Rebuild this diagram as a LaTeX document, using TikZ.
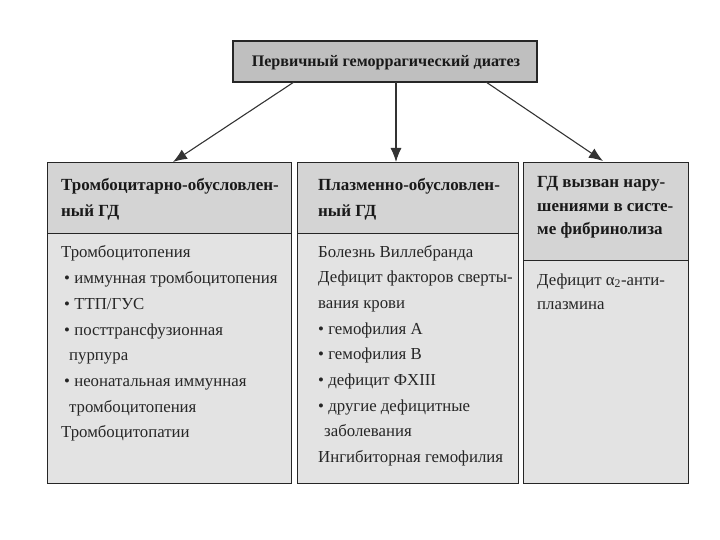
\documentclass[tikz,border=0pt]{standalone}
\usepackage{fontspec}
\setmainfont{Liberation Serif}
\usetikzlibrary{arrows.meta}
\begin{document}
\begin{tikzpicture}[x=1pt,y=-1pt,
  cell/.style={draw=black!85, line width=1.4pt, anchor=north west, inner sep=0pt},
  headcell/.style={cell, fill=black!17},
  bodycell/.style={cell, fill=black!11},
  topcell/.style={draw=black!85, line width=1.6pt, fill=black!25, inner sep=0pt},
  txt/.style={anchor=base west, inner sep=0pt, font=\fontsize{16.8}{20}\selectfont, text=black!85},
  htxt/.style={anchor=base west, inner sep=0pt, font=\fontsize{17}{20}\selectfont\bfseries, text=black!90},
  arr/.style={draw=black!80, line width=1.1pt, -{Latex[length=14pt,width=11pt]}}
]
\useasboundingbox (0,0) rectangle (720,540);
% top box
\node[topcell, minimum width=304pt, minimum height=41pt] (top) at (385,61.5) {};
\node[inner sep=0pt, anchor=base, font=\fontsize{16.1}{19}\selectfont\bfseries, text=black!90] (toptxt) at (386,67) {Первичный геморрагический диатез};
% column cells
\node[headcell, minimum width=244pt, minimum height=71pt] (h1) at (47,162) {};
\node[bodycell, minimum width=244pt, minimum height=250pt] (b1) at (47,233) {};
\node[headcell, minimum width=221pt, minimum height=71pt] (h2) at (297,162) {};
\node[bodycell, minimum width=221pt, minimum height=250pt] (b2) at (297,233) {};
\node[headcell, minimum width=165pt, minimum height=98pt] (h3) at (523,162) {};
\node[bodycell, minimum width=165pt, minimum height=223pt] (b3) at (523,260) {};
% arrows
\coordinate (a1s) at (294,82);
\coordinate (a2s) at (396,82);
\coordinate (a3s) at (486,82);
\draw[arr] (a1s) -- (173,162) coordinate (a1e);
\draw[arr] (a2s) -- (h2.north -| a2s);
\draw[arr] (a3s) -- (603,161) coordinate (a3e);
% column 1 text
\node[htxt] (h1t1) at (61,191) {Тромбоцитарно-обусловлен-};
\node[htxt] (h1t2) at (61,216) {ный ГД};
\node[txt] (c1t1) at (61,258) {Тромбоцитопения};
\node[txt] (c1t2) at (64,283.7) {\textbullet\ иммунная тромбоцитопения};
\node[txt] (c1t3) at (64,309.4) {\textbullet\ ТТП/ГУС};
\node[txt] (c1t4) at (64,335.1) {\textbullet\ посттрансфузионная};
\node[txt] (c1t5) at (69,360.8) {пурпура};
\node[txt] (c1t6) at (64,386.5) {\textbullet\ неонатальная иммунная};
\node[txt] (c1t7) at (69,412.2) {тромбоцитопения};
\node[txt] (c1t8) at (61,437.9) {Тромбоцитопатии};
% column 2 text
\node[htxt] (h2t1) at (318,191) {Плазменно-обусловлен-};
\node[htxt] (h2t2) at (318,216) {ный ГД};
\node[txt] (c2t1) at (318,257) {Болезнь Виллебранда};
\node[txt] (c2t2) at (318,282.7) {Дефицит факторов сверты-};
\node[txt] (c2t3) at (318,308.4) {вания крови};
\node[txt] (c2t4) at (318,334.1) {\textbullet\ гемофилия А};
\node[txt] (c2t5) at (318,359.8) {\textbullet\ гемофилия В};
\node[txt] (c2t6) at (318,385.5) {\textbullet\ дефицит ФXIII};
\node[txt] (c2t7) at (318,411.2) {\textbullet\ другие дефицитные};
\node[txt] (c2t8) at (324,436.9) {заболевания};
\node[txt] (c2t9) at (318,462.6) {Ингибиторная гемофилия};
% column 3 text
\node[htxt] (h3t1) at (537,188) {ГД вызван нару-};
\node[htxt] (h3t2) at (537,211.5) {шениями в систе-};
\node[htxt] (h3t3) at (537,235) {ме фибринолиза};
\node[txt] (c3t1) at (537,285) {Дефицит α\textsubscript{2}-анти-};
\node[txt] (c3t2) at (537,309) {плазмина};
\end{tikzpicture}
\end{document}
